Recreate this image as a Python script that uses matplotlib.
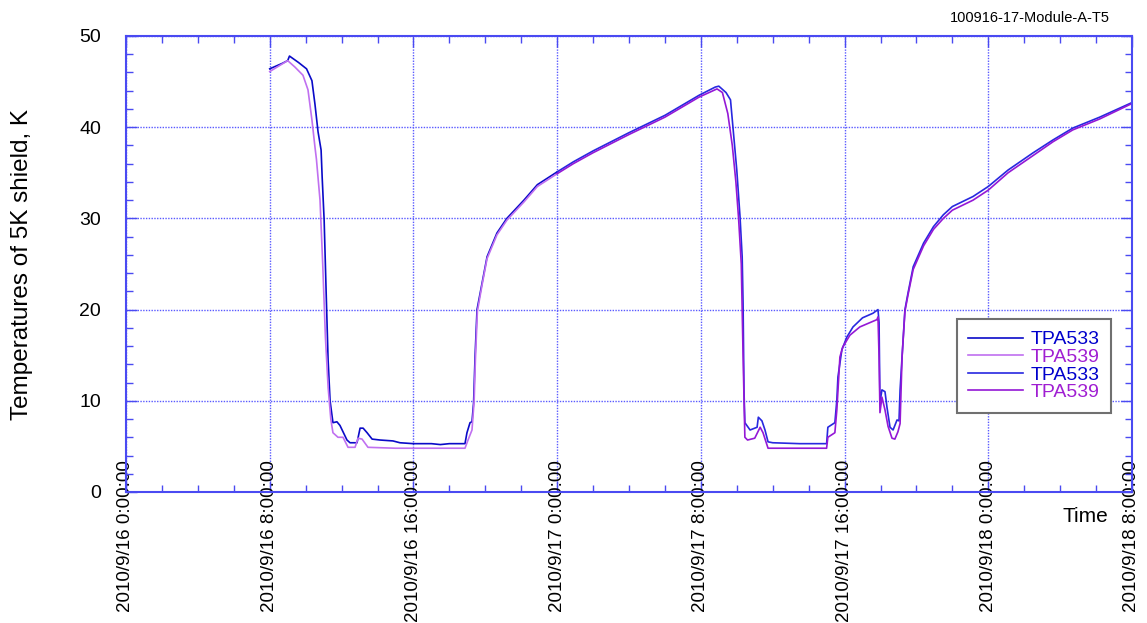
import matplotlib
matplotlib.use("Agg")
import matplotlib.pyplot as plt
import matplotlib.dates as mdates
import pandas as pd

plt.rcParams['font.family'] = ['Liberation Sans', 'DejaVu Sans']

# hours since 2010/9/16 0:00
horas_533 = [8.0, 8.7, 9.0, 9.1, 9.6, 10.05, 10.35, 10.52, 10.69, 10.86, 10.92, 11.03, 11.14,
             11.25, 11.36, 11.52, 11.74, 11.91, 12.3, 12.47, 12.86, 13.03, 13.2, 13.42, 13.7,
             14.14, 14.86, 15.25, 16.0, 17.0, 17.5, 18.0, 18.87, 18.98, 19.15, 19.26, 19.35,
             19.43, 19.54, 19.82, 20.1, 20.65, 21.2, 22.15, 22.9, 24.0, 24.9, 26.0, 28.0, 30.0,
             31.9, 32.8, 33.0, 33.4, 33.65, 33.8, 34.0, 34.18, 34.3, 34.35, 34.4, 34.45, 34.74,
             35.13, 35.2, 35.4, 35.57, 35.74, 36.0, 37.5, 38.5, 39.0, 39.07, 39.46, 39.57,
             39.63, 39.85, 40.13, 40.47, 41.0, 41.58, 41.86, 41.92, 41.97, 42.08, 42.25, 42.36,
             42.53, 42.7, 42.92, 43.03, 43.09, 43.2, 43.36, 43.53, 43.82, 44.4, 44.95, 45.5,
             46.0, 47.15, 48.0, 49.1, 50.5, 51.6, 52.7, 54.2, 56.0]
temp_533 = [46.4, 47.0, 47.3, 47.8, 47.1, 46.4, 45.1, 42.5, 39.5, 37.5, 34.5, 29.8, 22.0,
            14.5, 10.0, 7.6, 7.7, 7.3, 5.7, 5.4, 5.4, 7.0, 7.0, 6.5, 5.8,
            5.7, 5.6, 5.4, 5.3, 5.3, 5.2, 5.3, 5.3, 6.5, 7.6, 7.7, 9.8,
            14.8, 20.0, 22.9, 25.8, 28.4, 30.0, 32.0, 33.7, 35.1, 36.2, 37.4, 39.4, 41.3,
            43.5, 44.4, 44.5, 43.8, 43.0, 39.7, 35.3, 30.2, 25.8, 20.7, 11.2, 7.6, 6.8,
            7.1, 8.2, 7.8, 6.8, 5.5, 5.4, 5.3, 5.3, 5.3, 7.1, 7.6, 10.1,
            12.6, 15.6, 17.0, 18.1, 19.1, 19.6, 20.0, 18.6, 9.8, 11.2, 11.0, 9.3,
            7.1, 6.8, 7.9, 7.8, 11.2, 14.8, 20.0, 21.8, 24.7, 27.3, 29.1, 30.4,
            31.3, 32.4, 33.5, 35.3, 37.2, 38.6, 39.9, 41.1, 42.7]

horas_539 = [8.0, 9.0, 9.4, 9.85, 10.13, 10.35, 10.52, 10.6, 10.8, 10.95, 11.1, 11.25,
             11.4, 11.52, 11.8, 12.08, 12.36, 12.75, 12.92, 13.14, 13.47, 15.0, 17.0, 18.87,
             19.04, 19.26, 19.38, 19.45, 19.56, 19.82, 20.1, 20.65, 21.2, 22.15, 22.9, 24.0,
             24.9, 26.0, 28.0, 30.0, 31.9, 32.9, 33.2, 33.5, 33.75, 33.95, 34.1, 34.25, 34.35,
             34.45, 34.6, 35.0, 35.3, 35.46, 35.74, 36.0, 39.0, 39.07, 39.46, 39.57, 39.74,
             39.9, 40.3, 40.85, 41.8, 41.86, 41.92, 41.97, 42.08, 42.25, 42.42, 42.64, 42.8,
             42.97, 43.09, 43.2, 43.36, 43.53, 43.82, 44.4, 44.95, 45.5, 46.0, 47.15, 48.0,
             49.1, 50.5, 51.6, 52.7, 54.2, 56.0]
temp_539 = [46.1, 47.3, 46.6, 45.7, 44.1, 40.8, 37.8, 36.5, 32.0, 25.0, 17.0, 11.5,
            8.0, 6.5, 6.0, 6.0, 4.9, 4.9, 5.9, 5.8, 4.9, 4.8, 4.8, 4.8,
            5.7, 6.8, 10.0, 14.5, 19.8, 22.7, 25.6, 28.2, 29.8, 31.8, 33.5, 34.9,
            36.0, 37.2, 39.2, 41.1, 43.3, 44.2, 43.8, 41.5, 38.0, 34.0, 30.0, 25.0, 15.0,
            6.0, 5.7, 5.9, 7.1, 6.5, 4.8, 4.8, 4.8, 6.0, 6.5, 9.0, 14.8,
            15.9, 17.2, 18.1, 18.9, 19.2, 14.8, 8.7, 10.4, 9.0, 7.2, 5.9, 5.8,
            6.6, 7.5, 14.8, 19.8, 21.6, 24.4, 27.0, 28.8, 30.0,
            30.9, 32.0, 33.1, 35.0, 36.9, 38.4, 39.7, 40.9, 42.6]

inicio = pd.Timestamp('2010-09-16 00:00:00')
corte = 24.0  # hora onde a segunda parte dos dados comeca

tick_labels = ['2010/9/16 0:00:00', '2010/9/16 8:00:00', '2010/9/16 16:00:00',
               '2010/9/17 0:00:00', '2010/9/17 8:00:00', '2010/9/17 16:00:00',
               '2010/9/18 0:00:00', '2010/9/18 8:00:00']
tick_horas = [0, 8, 16, 24, 32, 40, 48, 56]

cor_eixo = '#4a4af2'
cor_grade = '#5a5aff'


def para_datas(horas):
    return inicio + pd.to_timedelta(horas, unit='h')


def dividir(horas, temps):
    a = [(h, t) for h, t in zip(horas, temps) if h <= corte]
    b = [(h, t) for h, t in zip(horas, temps) if h >= corte]
    return ([p[0] for p in a], [p[1] for p in a]), ([p[0] for p in b], [p[1] for p in b])


fig = plt.figure(figsize=(11.47, 6.23), dpi=100)
ax = fig.add_axes([126 / 1147, 1 - 492 / 623, 1006 / 1147, 456 / 623])

(h1, t1), (h3, t3) = dividir(horas_533, temp_533)
(h2, t2), (h4, t4) = dividir(horas_539, temp_539)

series = [
    (h1, t1, '#0a0ac8', 'TPA533', '#0000cc'),
    (h2, t2, '#c070f0', 'TPA539', '#a01ed2'),
    (h3, t3, '#2828e0', 'TPA533', '#0000cc'),
    (h4, t4, '#9418d6', 'TPA539', '#a01ed2'),
]
for h, t, cor, nome, _ in series:
    ax.plot(para_datas(h), t, color=cor, lw=1.2, label=nome)

x0 = mdates.date2num(inicio)
ax.set_xlim(x0, x0 + 56 / 24)
ax.set_ylim(0, 50)

ax.set_xticks([x0 + h / 24 for h in tick_horas])
ax.set_xticklabels(tick_labels, rotation=90, va='top', ha='center', fontsize=13.5)
ax.xaxis.set_minor_locator(matplotlib.ticker.FixedLocator([x0 + h / 24 for h in range(0, 57, 2)]))
ax.set_yticks([0, 10, 20, 30, 40, 50])
ax.yaxis.set_minor_locator(matplotlib.ticker.MultipleLocator(2))
ax.tick_params(axis='y', labelsize=14)

ax.tick_params(which='both', direction='in', top=True, right=True, color=cor_eixo, width=1)
ax.tick_params(which='major', length=8)
ax.tick_params(which='minor', length=5)
ax.tick_params(axis='x', which='major', pad=-23)
ax.tick_params(axis='y', which='major', pad=18)

for s in ax.spines.values():
    s.set_color(cor_eixo)
    s.set_linewidth(1.5)

ax.grid(True, which='major', color=cor_grade, linestyle=(0, (1, 1)), linewidth=1)

ax.set_ylabel('Temperatures of 5K shield, K', fontsize=17.5)
ax.yaxis.set_label_coords(-0.092, 0.5)
ax.text(0.954, -0.053, 'Time', transform=ax.transAxes, ha='center', va='center', fontsize=15)
fig.text(1110 / 1147, 1 - 18 / 623, '100916-17-Module-A-T5', ha='right', va='center', fontsize=10.5)

leg = ax.legend(loc='lower left', bbox_to_anchor=(0.816, 0.152), fontsize=14, frameon=True,
                fancybox=False, framealpha=1, edgecolor='#707070', handlelength=2.8,
                labelspacing=0.0, borderpad=0.6, handletextpad=0.4, markerfirst=True)
leg.get_frame().set_linewidth(1.5)
for txt, (_, _, _, _, cor_txt) in zip(leg.get_texts(), series):
    txt.set_color(cor_txt)

plt.savefig('out.png', dpi=100)
